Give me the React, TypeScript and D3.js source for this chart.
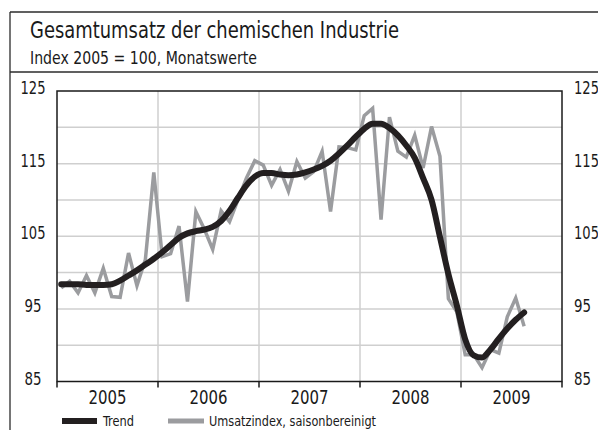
import * as d3 from "d3";
import { useEffect, useRef } from "react";

// Jan 2005 .. Aug 2009, monthly
const years = ["2005", "2006", "2007", "2008", "2009"];
const yTickLabels = [85, 95, 105, 115, 125];

const umsatzindex = [
  97.9, 98.8, 97.2, 99.6, 97.2, 100.6, 96.7, 96.6, 102.7, 98.2, 101.8, 113.8,
  102.2, 102.6, 106.4, 96.0, 108.4, 106.0, 103.2, 108.5, 107.0, 110.0, 113.0, 115.4,
  114.8, 112.0, 114.2, 111.2, 115.3, 113.0, 113.9, 116.7, 108.4, 117.3, 117.2, 116.9,
  121.6, 122.6, 107.3, 121.4, 116.7, 115.9, 118.9, 114.4, 120.1, 116.0, 96.4, 94.6,
  88.7, 88.7, 86.9, 89.4, 88.9, 93.9, 96.5, 92.6,
];

const trend = [
  98.4, 98.4, 98.4, 98.3, 98.3, 98.3, 98.4, 98.9, 99.6, 100.3, 101.1, 101.9,
  102.8, 103.8, 104.8, 105.4, 105.7, 105.9, 106.3, 107.1, 108.5, 110.3, 112.0, 113.2,
  113.7, 113.7, 113.5, 113.4, 113.5, 113.8, 114.2, 114.7, 115.4, 116.4, 117.5, 118.7,
  119.8, 120.5, 120.5, 119.9, 118.9, 117.5, 115.8, 113.0, 110.0, 104.9, 99.8, 95.5,
  90.8, 88.6, 88.3, 89.4, 90.9, 92.3, 93.5, 94.5,
];

const font = "'DejaVu Sans Condensed', 'DejaVu Sans', sans-serif";

export default function App() {
  const ref = useRef<SVGSVGElement>(null);

  useEffect(() => {
    const width = 598;
    const height = 430;
    const left = 57;
    const right = 562;
    const top = 91;
    const bottom = 381.5;

    const svg = d3.select(ref.current);
    svg.selectAll("*").remove();
    svg
      .attr("width", width)
      .attr("height", height)
      .attr("font-family", font)
      .attr("font-stretch", "condensed");

    const x = d3.scaleLinear().domain([0, years.length * 12]).range([left, right]);
    const y = d3.scaleLinear().domain([85, 125]).range([bottom, top]);

    // squeeze text to the condensed widths of the original
    const squeeze = (sel: any, w: number | ((d: any) => number)) =>
      sel.attr("textLength", w).attr("lengthAdjust", "spacingAndGlyphs");

    // outer frame
    const frame = svg.append("g").attr("stroke", "#2b2b2b").attr("stroke-width", 1.3);
    frame.append("line").attr("x1", 10).attr("x2", width).attr("y1", 12).attr("y2", 12);
    frame.append("line").attr("x1", 10).attr("x2", width).attr("y1", 72).attr("y2", 72);
    frame.append("line").attr("x1", 10).attr("x2", 10).attr("y1", 12).attr("y2", height);

    squeeze(
      svg.append("text")
        .attr("x", 30)
        .attr("y", 38)
        .attr("font-size", 23)
        .attr("fill", "#1a1a1a")
        .text("Gesamtumsatz der chemischen Industrie"),
      369
    );
    squeeze(
      svg.append("text")
        .attr("x", 30)
        .attr("y", 64)
        .attr("font-size", 17)
        .attr("fill", "#1a1a1a")
        .text("Index 2005 = 100, Monatswerte"),
      227
    );

    // grid
    const grid = svg.append("g").attr("stroke", "#cfcfcf").attr("stroke-width", 1.5);
    grid.selectAll("line.h")
      .data(d3.range(90, 125, 5))
      .join("line")
      .attr("class", "h")
      .attr("x1", left)
      .attr("x2", right)
      .attr("y1", (d) => y(d))
      .attr("y2", (d) => y(d));
    grid.selectAll("line.v")
      .data(d3.range(1, years.length))
      .join("line")
      .attr("class", "v")
      .attr("x1", (d) => x(d * 12))
      .attr("x2", (d) => x(d * 12))
      .attr("y1", top)
      .attr("y2", bottom);

    // plot frame
    svg.append("rect")
      .attr("x", left)
      .attr("y", top)
      .attr("width", right - left)
      .attr("height", bottom - top)
      .attr("fill", "none")
      .attr("stroke", "#1a1a1a")
      .attr("stroke-width", 1.5);

    // bottom ticks
    svg.append("g")
      .attr("stroke", "#1a1a1a")
      .attr("stroke-width", 1.5)
      .selectAll("line")
      .data(d3.range(0, years.length + 1))
      .join("line")
      .attr("x1", (d) => x(d * 12))
      .attr("x2", (d) => x(d * 12))
      .attr("y1", bottom)
      .attr("y2", bottom + 6);

    squeeze(
      svg.append("g")
        .attr("font-size", 19)
        .attr("fill", "#1a1a1a")
        .attr("text-anchor", "middle")
        .selectAll("text")
        .data(years)
        .join("text")
        .attr("x", (d, i) => x(i * 12 + 6))
        .attr("y", 404)
        .text((d) => d),
      38
    );

    const yl = svg.append("g").attr("font-size", 18).attr("fill", "#1a1a1a");
    squeeze(
      yl.selectAll("text.l")
        .data(yTickLabels)
        .join("text")
        .attr("class", "l")
        .attr("x", 33)
        .attr("text-anchor", "middle")
        .attr("y", (d) => y(d) + 3)
        .text((d) => d),
      (d: number) => (d >= 100 ? 25 : 17)
    );
    squeeze(
      yl.selectAll("text.r")
        .data(yTickLabels)
        .join("text")
        .attr("class", "r")
        .attr("x", 574)
        .attr("y", (d) => y(d) + 3)
        .text((d) => d),
      (d: number) => (d >= 100 ? 25 : 17)
    );

    const line = d3.line<number>()
      .x((d, i) => x(i + 0.5))
      .y((d) => y(d));

    svg.append("path")
      .datum(umsatzindex)
      .attr("d", line)
      .attr("fill", "none")
      .attr("stroke", "#9b9c9f")
      .attr("stroke-width", 3.5)
      .attr("stroke-linejoin", "miter");

    svg.append("path")
      .datum(trend)
      .attr("d", line.curve(d3.curveMonotoneX))
      .attr("fill", "none")
      .attr("stroke", "#231f20")
      .attr("stroke-width", 6)
      .attr("stroke-linecap", "round");

    // legend
    const lg = svg.append("g").attr("font-size", 14.5).attr("fill", "#1a1a1a");
    lg.append("line").attr("x1", 62).attr("x2", 97).attr("y1", 421).attr("y2", 421)
      .attr("stroke", "#231f20").attr("stroke-width", 6);
    squeeze(lg.append("text").attr("x", 103).attr("y", 426).text("Trend"), 31);
    lg.append("line").attr("x1", 168).attr("x2", 204).attr("y1", 421).attr("y2", 421)
      .attr("stroke", "#9b9c9f").attr("stroke-width", 5);
    squeeze(
      lg.append("text").attr("x", 209).attr("y", 426).text("Umsatzindex, saisonbereinigt"),
      167
    );
  }, []);

  return (
    <svg
      ref={ref}
      style={{ position: "absolute", left: 0, top: 0, background: "#fff" }}
    />
  );
}
